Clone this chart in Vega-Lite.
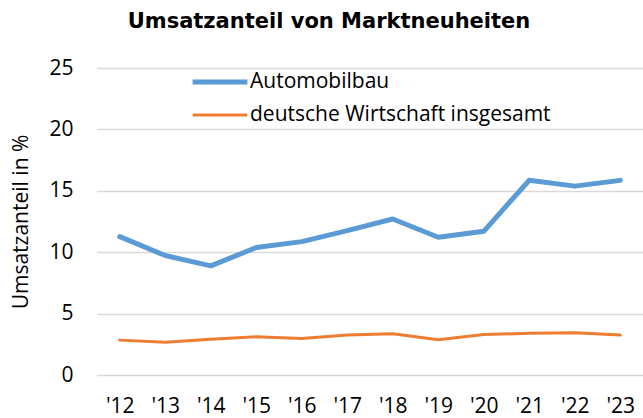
{
  "$schema": "https://vega.github.io/schema/vega-lite/v6.json",
  "width": 546,
  "height": 307,
  "autosize": "none",
  "padding": {"left": 97, "top": 68, "right": 0, "bottom": 43},
  "background": "white",
  "title": {
    "text": "Umsatzanteil von Marktneuheiten",
    "font": "DejaVu Sans",
    "fontWeight": "bold",
    "fontSize": 21,
    "color": "#000000",
    "anchor": "middle",
    "dx": -41,
    "offset": 25
  },
  "data": {
    "values": [
      {"year": "'12", "series": "Automobilbau", "value": 11.27},
      {"year": "'13", "series": "Automobilbau", "value": 9.73},
      {"year": "'14", "series": "Automobilbau", "value": 8.89},
      {"year": "'15", "series": "Automobilbau", "value": 10.38},
      {"year": "'16", "series": "Automobilbau", "value": 10.86},
      {"year": "'17", "series": "Automobilbau", "value": 11.76},
      {"year": "'18", "series": "Automobilbau", "value": 12.7},
      {"year": "'19", "series": "Automobilbau", "value": 11.22},
      {"year": "'20", "series": "Automobilbau", "value": 11.7},
      {"year": "'21", "series": "Automobilbau", "value": 15.86},
      {"year": "'22", "series": "Automobilbau", "value": 15.38},
      {"year": "'23", "series": "Automobilbau", "value": 15.85},
      {"year": "'12", "series": "deutsche Wirtschaft insgesamt", "value": 2.84},
      {"year": "'13", "series": "deutsche Wirtschaft insgesamt", "value": 2.67},
      {"year": "'14", "series": "deutsche Wirtschaft insgesamt", "value": 2.92},
      {"year": "'15", "series": "deutsche Wirtschaft insgesamt", "value": 3.11},
      {"year": "'16", "series": "deutsche Wirtschaft insgesamt", "value": 2.98},
      {"year": "'17", "series": "deutsche Wirtschaft insgesamt", "value": 3.25},
      {"year": "'18", "series": "deutsche Wirtschaft insgesamt", "value": 3.36},
      {"year": "'19", "series": "deutsche Wirtschaft insgesamt", "value": 2.87},
      {"year": "'20", "series": "deutsche Wirtschaft insgesamt", "value": 3.3},
      {"year": "'21", "series": "deutsche Wirtschaft insgesamt", "value": 3.39},
      {"year": "'22", "series": "deutsche Wirtschaft insgesamt", "value": 3.44},
      {"year": "'23", "series": "deutsche Wirtschaft insgesamt", "value": 3.25}
    ]
  },
  "mark": {"type": "line", "strokeCap": "round", "strokeJoin": "round"},
  "encoding": {
    "x": {
      "field": "year",
      "type": "ordinal",
      "scale": {"type": "point", "padding": 0.5},
      "axis": {
        "title": null,
        "labelAngle": 0,
        "labelFont": "Open Sans",
        "labelFontSize": 21,
        "labelColor": "#000000",
        "labelPadding": 20,
        "ticks": false,
        "domain": false,
        "grid": false
      }
    },
    "y": {
      "field": "value",
      "type": "quantitative",
      "scale": {"domain": [0, 25]},
      "axis": {
        "values": [0, 5, 10, 15, 20, 25],
        "title": "Umsatzanteil in %",
        "titleFont": "Open Sans",
        "titleFontSize": 21,
        "titleFontWeight": "normal",
        "titleColor": "#000000",
        "titlePadding": 17,
        "labelFont": "Open Sans",
        "labelFontSize": 21,
        "labelColor": "#000000",
        "labelPadding": 24,
        "ticks": false,
        "domain": false,
        "grid": true,
        "gridColor": "#d9d9d9",
        "gridWidth": 1.5
      }
    },
    "color": {
      "field": "series",
      "type": "nominal",
      "scale": {"domain": ["Automobilbau", "deutsche Wirtschaft insgesamt"], "range": ["#5b9bd5", "#ed7d31"]},
      "legend": {
        "title": null,
        "orient": "none",
        "legendX": 93,
        "legendY": 3,
        "symbolType": "stroke",
        "symbolSize": 3000,
        "clipHeight": 22,
        "labelFont": "Open Sans",
        "labelFontSize": 21,
        "labelColor": "#000000",
        "labelOffset": 0,
        "rowPadding": 11,
        "labelLimit": 400
      }
    },
    "strokeWidth": {
      "field": "series",
      "type": "nominal",
      "scale": {"domain": ["Automobilbau", "deutsche Wirtschaft insgesamt"], "range": [5, 3]},
      "legend": {
        "title": null,
        "orient": "none",
        "legendX": 93,
        "legendY": 3,
        "symbolType": "stroke",
        "symbolSize": 3000,
        "clipHeight": 22,
        "labelFont": "Open Sans",
        "labelFontSize": 21,
        "labelColor": "#000000",
        "labelOffset": 0,
        "rowPadding": 11,
        "labelLimit": 400
      }
    }
  },
  "config": {"view": {"stroke": null}}
}
